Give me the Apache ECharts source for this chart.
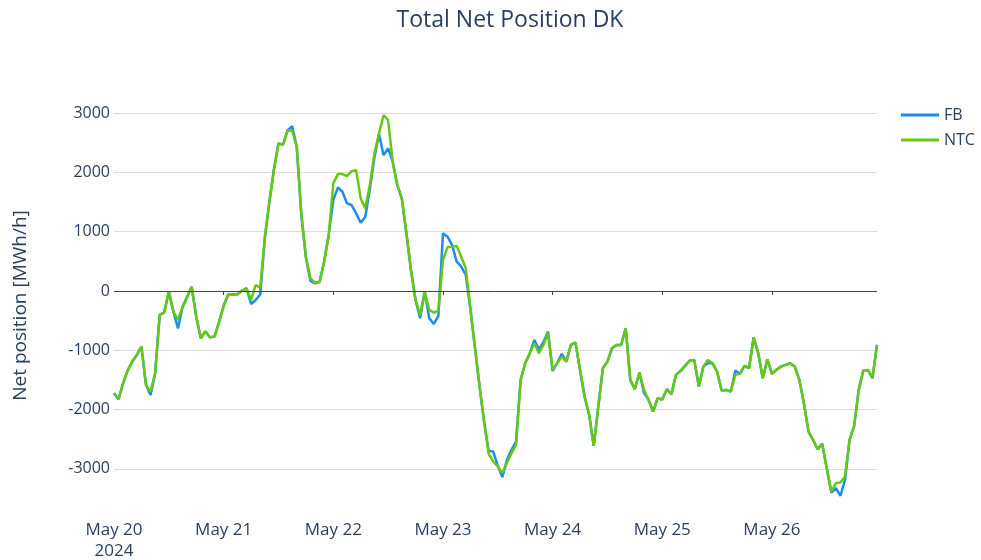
<!DOCTYPE html>
<html lang="en">
<head>
  <meta charset="UTF-8" />
  <title>Total Net Position DK</title>
  <script src="https://cdn.jsdelivr.net/npm/echarts@6/dist/echarts.min.js"></script>
  <style>
    html, body { margin: 0; padding: 0; background: #fff; }
    #chart { width: 981px; height: 560px; }
  </style>
</head>
<body>
  <div id="chart"></div>
  <script>
    // hourly values, May 20 00:00 .. May 26 23:00 (MWh/h)
    var startDay = '2024-05-20';
    var hours = 168;

    var ntc = [
      -1724, -1826, -1556, -1340, -1191, -1079, -938, -1584, -1697, -1388, -404, -360,
      -10, -348, -489, -264, -100, 70, -433, -798, -685, -781, -770, -520,
      -250, -60, -60, -56, 5, 45, -152, 101, 50, 900, 1500, 2050,
      2489, 2470, 2713, 2700, 2432, 1310, 578, 213, 140, 157, 494, 950,
      1815, 1972, 1972, 1938, 2022, 2039, 1562, 1394, 1787, 2321, 2658, 2966,
      2882, 2180, 1787, 1562, 972, 354, -152, -404, -11, -320, -365, -330,
      522, 740, 747, 758, 578, 382, -300, -950, -1600, -2200, -2750, -2877,
      -2961, -3073, -2904, -2736, -2596, -1500, -1219, -1050, -882, -1050, -910, -710,
      -1332, -1219, -1107, -1191, -910, -871, -1332, -1781, -2090, -2613, -1950, -1303,
      -1191, -966, -910, -910, -629, -1500, -1657, -1377, -1669, -1837, -2034, -1809,
      -1830, -1657, -1741, -1416, -1348, -1264, -1175, -1163, -1613, -1276, -1163, -1219,
      -1360, -1680, -1669, -1697, -1416, -1399, -1264, -1303, -781, -1050, -1472, -1152,
      -1399, -1330, -1276, -1247, -1219, -1276, -1500, -1893, -2371, -2511, -2668, -2579,
      -2989, -3382, -3242, -3231, -3130, -2511, -2275, -1669, -1343, -1332, -1472, -910
    ];

    var fb = [
      -1724, -1826, -1556, -1340, -1191, -1079, -938, -1584, -1753, -1400, -404, -360,
      -10, -348, -630, -280, -100, 70, -433, -798, -685, -781, -770, -520,
      -250, -60, -60, -56, 5, 45, -219, -152, -60, 880, 1500, 2050,
      2489, 2470, 2713, 2780, 2432, 1280, 560, 170, 130, 150, 494, 950,
      1534, 1748, 1674, 1478, 1450, 1310, 1151, 1253, 1720, 2250, 2650, 2292,
      2405, 2180, 1787, 1562, 972, 354, -152, -461, -11, -461, -556, -420,
      972, 916, 775, 494, 410, 270, -300, -950, -1600, -2200, -2700, -2708,
      -2950, -3141, -2850, -2680, -2540, -1500, -1219, -1050, -826, -990, -860, -686,
      -1350, -1219, -1060, -1191, -910, -871, -1332, -1781, -2090, -2613, -1950, -1303,
      -1191, -966, -910, -910, -629, -1500, -1657, -1377, -1720, -1837, -2034, -1809,
      -1830, -1657, -1741, -1416, -1348, -1264, -1175, -1163, -1613, -1276, -1220, -1219,
      -1360, -1680, -1669, -1697, -1340, -1399, -1264, -1303, -781, -1050, -1472, -1152,
      -1399, -1330, -1276, -1247, -1219, -1276, -1500, -1893, -2371, -2511, -2668, -2579,
      -2989, -3400, -3326, -3455, -3185, -2511, -2275, -1669, -1343, -1332, -1472, -910
    ];

    var yTicks = [-3000, -2000, -1000, 0, 1000, 2000, 3000];
    var yMin = -3780;
    var yMax = 3290;

    var monthNames = ['Jan', 'Feb', 'Mar', 'Apr', 'May', 'Jun', 'Jul', 'Aug', 'Sep', 'Oct', 'Nov', 'Dec'];

    // hourly category labels
    var times = [];
    var t0 = new Date(startDay + 'T00:00:00');
    for (var i = 0; i < hours; i++) {
      var d = new Date(t0.getTime() + i * 3600000);
      times.push(d);
    }
    var categories = times.map(function (d) { return d.toISOString(); });

    var textColor = '#2a3f5f';
    var font = '"Open Sans", "Noto Sans", sans-serif';

    var chart = echarts.init(document.getElementById('chart'));
    var option = {
      backgroundColor: '#fff',
      animation: false,
      textStyle: { fontFamily: font, color: textColor },
      title: {
        text: 'Total Net Position DK',
        left: 505,
        top: 4,
        textAlign: 'center',
        textStyle: { fontFamily: font, fontSize: 23, fontWeight: 'normal', color: textColor }
      },
      legend: {
        orient: 'vertical',
        left: 896,
        top: 102,
        itemWidth: 38,
        itemHeight: 3,
        itemGap: 9,
        icon: 'rect',
        textStyle: { fontFamily: font, fontSize: 16, color: textColor, padding: [0, 0, 0, 0] },
        data: ['FB', 'NTC']
      },
      grid: { left: 114, right: 104, top: 96, bottom: 45, outerBoundsMode: 'none' },
      xAxis: {
        type: 'category',
        data: categories,
        boundaryGap: false,
        axisLine: { show: false },
        axisTick: {
          show: true,
          length: 4,
          lineStyle: { color: '#444' },
          interval: function (i) { return i > 0 && i % 24 === 0; }
        },
        axisLabel: {
          interval: function (i) { return i % 24 === 0; },
          margin: 5,
          fontFamily: font,
          fontSize: 17,
          color: textColor,
          lineHeight: 21,
          formatter: function (v, i) {
            var d = times[i];
            var s = monthNames[d.getMonth()] + ' ' + d.getDate();
            return i === 0 ? s + '\n' + d.getFullYear() : s;
          }
        },
        splitLine: { show: false }
      },
      yAxis: {
        type: 'value',
        min: yMin,
        max: yMax,
        splitNumber: 7,
        name: 'Net position [MWh/h]',
        nameLocation: 'middle',
        nameGap: 84,
        nameTextStyle: { fontFamily: font, fontSize: 19, color: textColor },
        axisLine: { show: false },
        axisTick: { show: false },
        axisLabel: {
          margin: 4,
          fontFamily: font,
          fontSize: 16,
          color: textColor,
          showMinLabel: false,
          showMaxLabel: false,
          formatter: function (v) { return yTicks.indexOf(v) >= 0 ? String(v) : ''; }
        },
        splitLine: {
          show: true,
          showMinLine: false,
          showMaxLine: false,
          lineStyle: { color: '#dcdcdc', width: 1 }
        }
      },
      series: [
        {
          name: 'FB',
          type: 'line',
          data: fb,
          showSymbol: false,
          symbol: 'none',
          lineStyle: { color: '#1c8cf0', width: 2.5 },
          itemStyle: { color: '#1c8cf0' },
          markLine: {
            silent: true,
            symbol: 'none',
            label: { show: false },
            lineStyle: { color: '#444', width: 1, type: 'solid' },
            data: [{ yAxis: 0 }]
          },
          z: 3
        },
        {
          name: 'NTC',
          type: 'line',
          data: ntc,
          showSymbol: false,
          symbol: 'none',
          lineStyle: { color: '#66c814', width: 2.5 },
          itemStyle: { color: '#66c814' },
          z: 4
        }
      ]
    };
    chart.setOption(option);
  </script>
</body>
</html>
